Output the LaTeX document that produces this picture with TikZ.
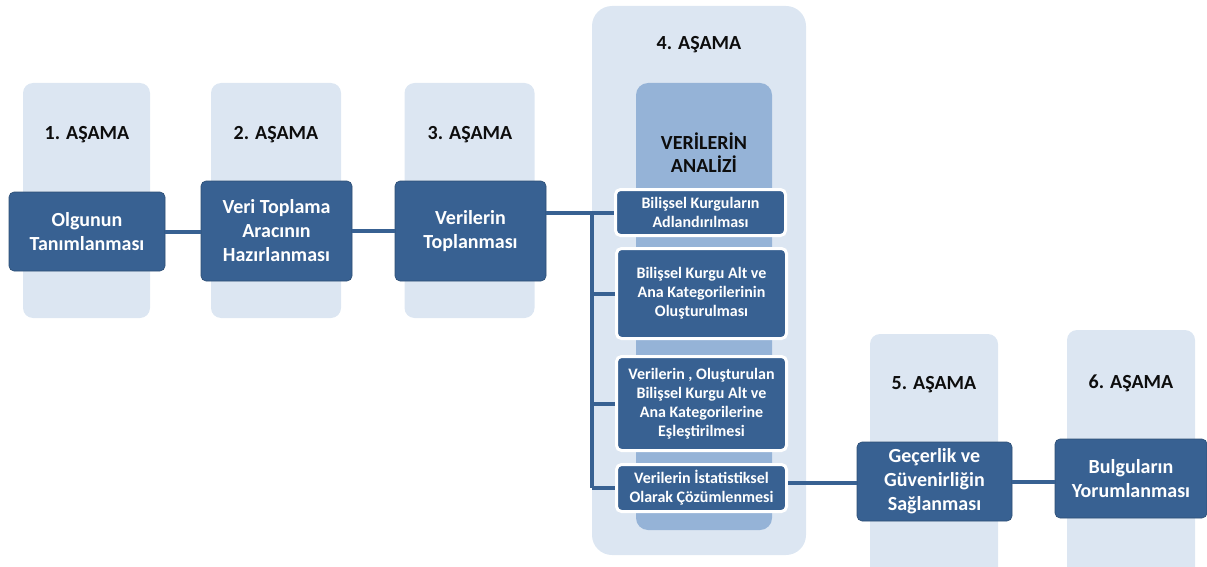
\documentclass[tikz,border=0pt]{standalone}
\usepackage{fontspec}
\setmainfont{Carlito}
\definecolor{panelbg}{HTML}{DCE6F2}
\definecolor{analizbg}{HTML}{95B3D7}
\definecolor{stepblue}{HTML}{386192}
\definecolor{headtext}{HTML}{0D0D0D}

\tikzset{
  panel/.style={fill=panelbg, rounded corners=10pt, inner sep=0pt},
  heading/.style={text=headtext, font=\fontsize{20}{23}\selectfont\bfseries, align=center},
  stagebox/.style={fill=stepblue, draw=stepblue!80!black, line width=0.6pt, rounded corners=5pt,
    text=white, font=\fontsize{20}{24}\selectfont\bfseries, align=center, inner sep=0pt},
  subbox/.style={fill=stepblue, draw=white, line width=3pt, rounded corners=5pt,
    text=white, font=\fontsize{16}{19}\selectfont\bfseries, align=center, inner sep=0pt,
    minimum width=170pt},
  link/.style={draw=stepblue, line width=4pt},
}

\begin{document}
\begin{tikzpicture}[x=1pt, y=-1pt]
  \useasboundingbox (0,0) rectangle (1207,567);

  % light stage panels
  \node[panel, minimum width=127pt, minimum height=235pt] (p1) at (86.5,200.5) {};
  \node[panel, minimum width=130pt, minimum height=235pt] (p2) at (276,200.5) {};
  \node[panel, minimum width=130pt, minimum height=235pt] (p3) at (469.5,200.5) {};
  \node[panel, rounded corners=20pt, minimum width=214pt, minimum height=549pt] (p4) at (699,280.5) {};
  \node[panel, minimum width=128pt, minimum height=260pt] (p5) at (934,464) {};
  \node[panel, minimum width=128pt, minimum height=260pt] (p6) at (1131,460) {};
  \node[panel, fill=analizbg, rounded corners=12pt, minimum width=136pt, minimum height=447pt] (analiz) at (704,306.5) {};

  % stage titles
  \node[heading] (h1) at (87,135) {1. AŞAMA};
  \node[heading] (h2) at (276,135) {2. AŞAMA};
  \node[heading] (h3) at (470,135) {3. AŞAMA};
  \node[heading] (h4) at (699,45) {4. AŞAMA};
  \node[heading] (h5) at (934,385) {5. AŞAMA};
  \node[heading] (h6) at (1131,383) {6. AŞAMA};
  \node[heading] (hanaliz) at (704,153) {VERİLERİN\\ANALİZİ};

  % main steps
  \node[stagebox, minimum width=156pt, minimum height=79pt] (olgu) at (87,231.5) {Olgunun\\Tanımlanması};
  \node[stagebox, minimum width=151pt, minimum height=100pt] (arac) at (276.5,231) {Veri Toplama\\Aracının\\Hazırlanması};
  \node[stagebox, minimum width=151pt, minimum height=100pt] (topla) at (470.5,231) {Verilerin\\Toplanması};
  \node[stagebox, minimum width=155pt, minimum height=79pt] (gecer) at (934.5,481.5) {Geçerlik ve\\Güvenirliğin\\Sağlanması};
  \node[stagebox, minimum width=152pt, minimum height=79pt] (bulgu) at (1131,478.5) {Bulguların\\Yorumlanması};

  % analysis steps
  \node[subbox, minimum height=46pt] (adlan) at (700.5,212.5) {Bilişsel Kurguların\\Adlandırılması};
  \node[subbox, minimum height=90pt] (kateg) at (701.5,293.5) {Bilişsel Kurgu Alt ve\\Ana Kategorilerinin\\Oluşturulması};
  \node[subbox, minimum height=94pt] (esles) at (701.5,403.5) {Verilerin , Oluşturulan\\Bilişsel Kurgu Alt ve\\Ana Kategorilerine\\Eşleştirilmesi};
  \node[subbox, minimum height=47pt] (istat) at (701.5,488) {Verilerin İstatistiksel\\Olarak Çözümlenmesi};

  % connectors
  \coordinate (fork) at (592,212.5);
  \draw[link] (olgu.east) -- (olgu.east -| arac.west);
  \draw[link] (arac.east) -- (arac.east -| topla.west);
  \draw[link] (topla.east |- adlan.west) -- (adlan.west);
  \draw[link] (fork) -- (fork |- istat.west);
  \draw[link] (fork |- kateg.west) -- (kateg.west);
  \draw[link] (fork |- esles.west) -- (esles.west);
  \draw[link] (fork |- istat.west) -- (istat.west);
  \draw[link] (istat.east) ++(0,-5) coordinate (istatout) -- (istatout -| gecer.west);
  \draw[link] (gecer.east) -- (gecer.east -| bulgu.west);
\end{tikzpicture}
\end{document}
